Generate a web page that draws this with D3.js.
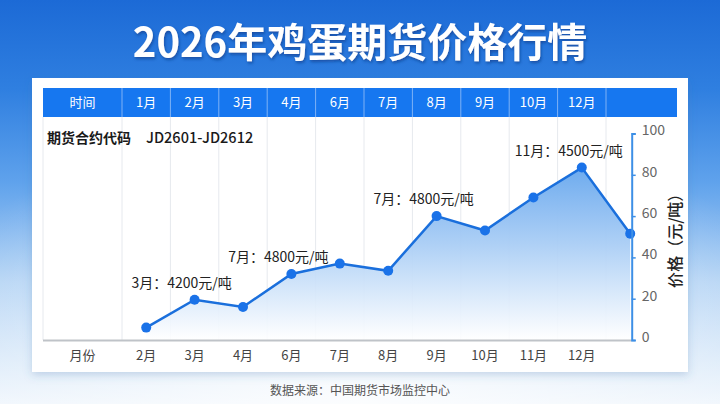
<!DOCTYPE html>
<html><head><meta charset="utf-8">
<script src="https://cdn.jsdelivr.net/npm/d3@7/dist/d3.min.js"></script>
<style>
html,body{margin:0;padding:0;background:#fff;}
svg{display:block;font-family:"Noto Sans CJK SC","Noto Sans",sans-serif;}
</style></head>
<body>
<svg id="c" width="720" height="404"></svg>
<script>
const titleText = "2026年鸡蛋期货价格行情";
const headerFirst = "时间";
const headerMonths = ["1月","2月","3月","4月","6月","7月","8月","9月","10月","12月"];
const contractLabel = "期货合约代码";
const contractCode = "JD2601-JD2612";
const xAxisTitle = "月份";
const xLabels = ["2月","3月","4月","6月","7月","8月","9月","10月","11月","12月"];
const values = [6, 19.5, 16, 32, 37, 33.5, 60, 53, 69, 83.5, 51.5];
const yTicks = [0, 20, 40, 60, 80, 100];
const yAxisTitle = "价格（元/吨）";
const annotations = [
  {i: 1, text: "3月：4200元/吨"},
  {i: 3, text: "7月：4800元/吨"},
  {i: 6, text: "7月：4800元/吨"},
  {i: 9, text: "11月：4500元/吨"}
];
const sourceText = "数据来源：中国期货市场监控中心";

const svg = d3.select("#c");
const defs = svg.append("defs");

// background
const bg = defs.append("linearGradient").attr("id","bg").attr("x1",0).attr("y1",0).attr("x2",0).attr("y2",1);
[[0,"#1c6ad6"],[0.22,"#2f7fe0"],[0.45,"#5fa2ec"],[0.7,"#b3d3f4"],[1,"#eef5fc"]].forEach(s=>bg.append("stop").attr("offset",s[0]).attr("stop-color",s[1]));
svg.append("rect").attr("width",720).attr("height",404).attr("fill","url(#bg)");
const glow = defs.append("radialGradient").attr("id","glow").attr("cx",0.5).attr("cy",1).attr("r",0.7);
glow.append("stop").attr("offset",0).attr("stop-color","#ffffff").attr("stop-opacity",0.8);
glow.append("stop").attr("offset",1).attr("stop-color","#ffffff").attr("stop-opacity",0);
svg.append("rect").attr("width",720).attr("height",404).attr("fill","url(#glow)");

// title
const ts = defs.append("filter").attr("id","ts").attr("x","-10%").attr("y","-30%").attr("width","120%").attr("height","160%");
ts.append("feDropShadow").attr("dx",1).attr("dy",2).attr("stdDeviation",1.5).attr("flood-color","#0b3f8f").attr("flood-opacity",0.7);
svg.append("text").attr("x",360).attr("y",57).attr("text-anchor","middle")
  .attr("fill","#fff").attr("font-size",40).attr("font-weight",700)
  .attr("filter","url(#ts)").text(titleText);

// panel
const ps = defs.append("filter").attr("id","ps").attr("x","-5%").attr("y","-5%").attr("width","110%").attr("height","115%");
ps.append("feDropShadow").attr("dx",0).attr("dy",3).attr("stdDeviation",4).attr("flood-color","#3a6ea8").attr("flood-opacity",0.25);
svg.append("rect").attr("x",32).attr("y",78).attr("width",656).attr("height",294).attr("fill","#fff").attr("filter","url(#ps)");

// scales
const left = 43, firstColR = 122, monthsR = 606, right = 677;
const band = d3.scaleBand().domain(headerMonths).range([firstColR, monthsR]).padding(0);
const x = d3.scaleLinear().domain([0, 10]).range([firstColR + band.bandwidth()/2, firstColR + band.bandwidth()*10.5]);
const y = d3.scaleLinear().domain([0, 100]).range([340, 133.5]);
const headerTop = 88, headerBottom = 117, baseY = y(0);
const axisX = x(10) + 1.5;

// header
const hdr = svg.append("g");
hdr.append("rect").attr("x",left).attr("y",headerTop).attr("width",right-left).attr("height",headerBottom-headerTop).attr("fill","#1677f0");
const edges = [firstColR, ...headerMonths.map(m => band(m) + band.bandwidth())];
hdr.selectAll("line.sep").data(edges).join("line")
  .attr("x1",d=>d).attr("x2",d=>d).attr("y1",headerTop).attr("y2",headerBottom)
  .attr("stroke","#7fb2f5").attr("stroke-width",1);
hdr.append("text").attr("x",(left+firstColR)/2).attr("y",107).attr("text-anchor","middle")
  .attr("fill","#fff").attr("font-size",13).text(headerFirst);
hdr.selectAll("text.m").data(headerMonths).join("text").attr("class","m")
  .attr("x",d=>band(d)+band.bandwidth()/2).attr("y",107).attr("text-anchor","middle")
  .attr("fill","#fff").attr("font-size",13).text(d=>d);

// grid
svg.append("g").selectAll("line").data([left, ...edges]).join("line")
  .attr("x1",d=>d).attr("x2",d=>d).attr("y1",headerBottom).attr("y2",baseY)
  .attr("stroke","#e6e9ee").attr("stroke-width",1);

// contract row
svg.append("text").attr("x",47).attr("y",143).attr("font-size",14).attr("font-weight",700).attr("fill","#1a1a1a").text(contractLabel);
svg.append("text").attr("x",146).attr("y",143).attr("font-size",14.5).attr("font-weight",500).attr("fill","#1a1a1a").text(contractCode);

// area
const ag = defs.append("linearGradient").attr("id","ag").attr("x1",0).attr("y1",0).attr("x2",0).attr("y2",1)
  .attr("gradientUnits","userSpaceOnUse").attr("y1",y(85)).attr("y2",baseY);
ag.append("stop").attr("offset",0).attr("stop-color","#6aa9ee").attr("stop-opacity",1);
ag.append("stop").attr("offset",0.45).attr("stop-color","#a9cdf5").attr("stop-opacity",0.95);
ag.append("stop").attr("offset",1).attr("stop-color","#ffffff").attr("stop-opacity",0.9);
svg.append("path").datum(values)
  .attr("d", d3.area().x((d,i)=>x(i)).y0(baseY).y1(d=>y(d)))
  .attr("fill","url(#ag)");

// x axis line
svg.append("line").attr("x1",left).attr("x2",axisX).attr("y1",baseY+0.5).attr("y2",baseY+0.5)
  .attr("stroke","#bfc3c8").attr("stroke-width",2);

// line + points
svg.append("path").datum(values)
  .attr("d", d3.line().x((d,i)=>x(i)).y(d=>y(d)))
  .attr("fill","none").attr("stroke","#1a6fdc").attr("stroke-width",2.5);
svg.append("g").selectAll("circle").data(values).join("circle")
  .attr("cx",(d,i)=>x(i)).attr("cy",d=>y(d)).attr("r",5).attr("fill","#1a72e8");

// annotations
svg.append("g").selectAll("text").data(annotations).join("text")
  .attr("x",d=>x(d.i)-13).attr("y",d=>y(values[d.i])-12).attr("text-anchor","middle")
  .attr("font-size",14).attr("fill","#222").text(d=>d.text);

// x labels
svg.append("text").attr("x",(left+firstColR)/2).attr("y",360).attr("text-anchor","middle")
  .attr("font-size",13).attr("fill","#444").text(xAxisTitle);
svg.append("g").selectAll("text").data(xLabels).join("text")
  .attr("x",(d,i)=>x(i)).attr("y",360).attr("text-anchor","middle")
  .attr("font-size",13).attr("fill","#444").text(d=>d);

// right axis
const ax = svg.append("g").attr("transform",`translate(${axisX},0)`)
  .call(d3.axisRight(y).tickValues(yTicks).tickSize(4).tickSizeOuter(4).tickPadding(6));
ax.select(".domain").attr("stroke","#3d8fe6").attr("stroke-width",2);
ax.selectAll(".tick line").attr("stroke","#3d8fe6").attr("stroke-width",1.5);
ax.selectAll(".tick text").attr("fill","#666").attr("font-size",14)
  .attr("font-family",'"Noto Sans CJK SC","Noto Sans",sans-serif').attr("dy","0.1em");

svg.append("text").attr("transform",`translate(675,${y(50)}) rotate(-90)`)
  .attr("text-anchor","middle").attr("dy","0.35em").attr("font-size",16).attr("font-weight",500)
  .attr("fill","#222").text(yAxisTitle);

// source
svg.append("text").attr("x",360).attr("y",395).attr("text-anchor","middle")
  .attr("font-size",12).attr("fill","#555").text(sourceText);
</script>
</body></html>
